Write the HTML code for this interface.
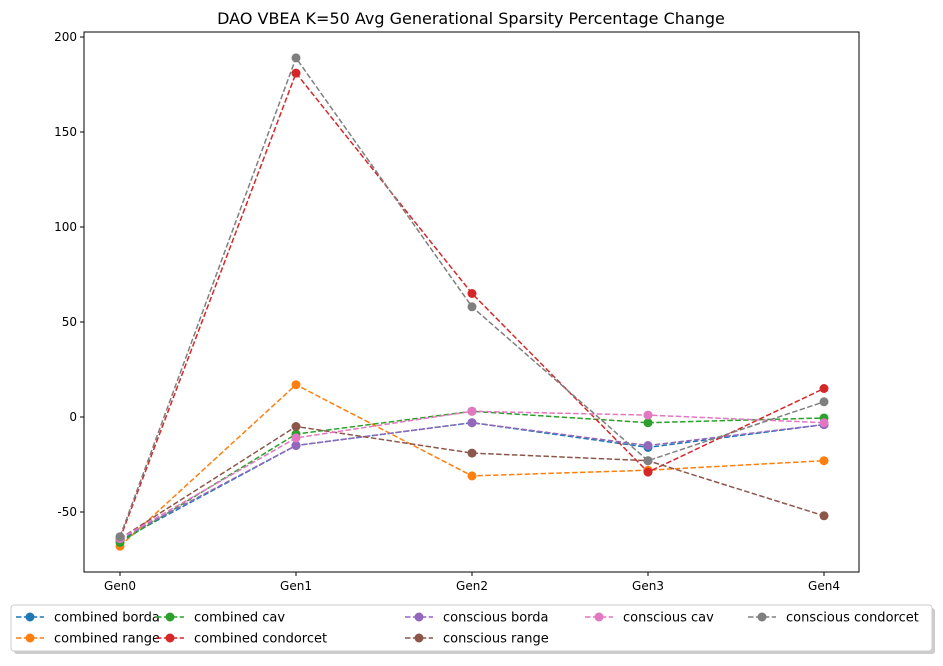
<!DOCTYPE html>
<html><head><meta charset="utf-8"><style>
body{margin:0;background:#fff;font-family:"Liberation Sans","DejaVu Sans",sans-serif;}
svg text{font-family:"DejaVu Sans","Liberation Sans",sans-serif;}
</style></head><body>
<svg id="c" width="943" height="661"></svg>
<script>
const categories=["Gen0","Gen1","Gen2","Gen3","Gen4"];
const seriesNames=["combined borda","combined range","combined cav","combined condorcet","conscious borda","conscious range","conscious cav","conscious condorcet"];
const colors=["#1f77b4","#ff7f0e","#2ca02c","#d62728","#9467bd","#8c564b","#e377c2","#7f7f7f"];
const combinedBorda=[-65,-15,-3,-16,-4];
const combinedRange=[-68,17,-31,-28,-23];
const combinedCav=[-66,-9,3,-3,-0.5];
const combinedCondorcet=[-64,181,65,-29,15];
const consciousBorda=[-64,-15,-3,-15,-4];
const consciousRange=[-64,-5,-19,-23,-52];
const consciousCav=[-64,-11,3,1,-3];
const consciousCondorcet=[-63,189,58,-23,8];
const yTicks=[-50,0,50,100,150,200];
const series=[combinedBorda,combinedRange,combinedCav,combinedCondorcet,consciousBorda,consciousRange,consciousCav,consciousCondorcet];

const NS="http://www.w3.org/2000/svg";
const svg=document.getElementById('c');
function mk(t,a,p){const e=document.createElementNS(NS,t);for(const k in a)e.setAttribute(k,a[k]);(p||svg).appendChild(e);return e;}
const L=84,R=859,T=32,B=572;
const xs=i=>120+i*(824-120)/(categories.length-1);
const ys=v=>417-1.9*v;

const title=mk('text',{x:471,y:24,'text-anchor':'middle','font-size':16,fill:'#000'});
title.textContent="DAO VBEA K=50 Avg Generational Sparsity Percentage Change";



yTicks.forEach(v=>{
  mk('line',{x1:L-4,x2:L,y1:ys(v),y2:ys(v),stroke:'#000'});
  const t=mk('text',{x:L-7,y:ys(v)+4,'text-anchor':'end','font-size':12});
  t.textContent=v;
  
  
});
categories.forEach((c,i)=>{
  mk('line',{x1:xs(i),x2:xs(i),y1:B,y2:B+4,stroke:'#000'});
  const t=mk('text',{x:xs(i),y:B+18,'text-anchor':'middle','font-size':12});
  t.textContent=c;
  
  
});
series.forEach((d,s)=>{
  const g=mk('g',{});
  
  
  mk('polyline',{points:d.map((v,i)=>xs(i)+','+ys(v)).join(' '),fill:'none',stroke:colors[s],'stroke-width':1.5,'stroke-dasharray':'5.5,2.4'},g);
  d.forEach((v,i)=>{
    const c=mk('circle',{cx:xs(i),cy:ys(v),r:4.5,fill:colors[s]},g);
    
    
  });
});
const frame=mk('rect',{x:L,y:T,width:R-L,height:B-T,fill:'none',stroke:'#000','stroke-width':1});



// legend
mk('rect',{x:14,y:608,width:921,height:46,rx:3,fill:'#999',opacity:0.5});
const lg=mk('rect',{x:11,y:605,width:921,height:46,rx:3,fill:'#fff',stroke:'#ccc'});


const colX=[16,156,405,585,748];
const colOf=[0,0,1,1,2,2,3,4];
const rowOf=[0,1,0,1,0,1,0,0];
seriesNames.forEach((n,s)=>{
  const x=colX[colOf[s]],y=617+rowOf[s]*21;
  const g=mk('g',{});
  
  
  mk('line',{x1:x,x2:x+28,y1:y,y2:y,stroke:colors[s],'stroke-width':1.5,'stroke-dasharray':'5.5,2.4'},g);
  mk('circle',{cx:x+14,cy:y,r:4.5,fill:colors[s]},g);
  const t=mk('text',{x:x+38,y:y+4.5,'font-size':13},g);
  t.textContent=n;
});
</script>
</body></html>
